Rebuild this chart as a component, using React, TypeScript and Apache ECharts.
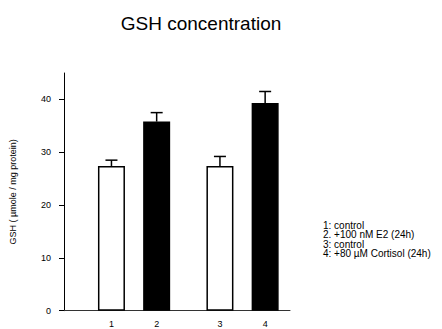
import React, { useEffect, useRef } from "react";
import * as echarts from "echarts";

const categories = ["1", "2", "3", "4"];
const xPositions = [1.05, 2.05, 3.45, 4.45];
const means = [27.4, 35.8, 27.4, 39.3];
const errors = [1.1, 1.7, 1.8, 2.2];
const barColors = ["#ffffff", "#000000", "#ffffff", "#000000"];
const yTicks = [0, 10, 20, 30, 40];
const legendLines = [
  "1: control",
  "2. +100 nM E2 (24h)",
  "3: control",
  "4: +80 \u00b5M Cortisol (24h)",
];

const FONT = "Liberation Sans, Arial, sans-serif";

export default function App() {
  const ref = useRef<HTMLDivElement>(null);
  useEffect(() => {
    if (!ref.current) return;
    const chart = echarts.init(ref.current, null, { renderer: "svg" });
    const barData = xPositions.map((x, i) => ({
      value: [x, means[i]],
      itemStyle: { color: barColors[i], borderColor: "#000", borderWidth: 1.5 },
    }));
    const errData = xPositions.map((x, i) => [x, means[i], means[i] + errors[i]]);
    chart.setOption({
      animation: false,
      backgroundColor: "#fff",
      textStyle: { fontFamily: FONT },
      title: {
        text: "GSH concentration",
        left: 196,
        textAlign: "center",
        top: 9,
        textStyle: { fontSize: 19, fontWeight: "normal", color: "#000", fontFamily: FONT },
      },
      grid: { left: 63, right: 152, top: 73, bottom: 18.3 },
      xAxis: {
        type: "value",
        min: 0,
        max: 5,
        splitLine: { show: false },
        axisLine: { show: true, lineStyle: { color: "#333", width: 1 } },
        axisTick: { show: false },
        axisLabel: {
          customValues: xPositions,
          formatter: (v: number) => {
            const idx = xPositions.findIndex((p) => Math.abs(p - v) < 1e-6);
            return idx >= 0 ? categories[idx] : "";
          },
          color: "#000",
          fontSize: 9,
          margin: 9,
          fontFamily: FONT,
        },
      },
      yAxis: {
        type: "value",
        min: 0,
        max: 45,
        name: "GSH ( \u00b5mole / mg protein)",
        nameLocation: "middle",
        nameRotate: 90,
        nameGap: 47,
        nameTextStyle: { fontSize: 9, color: "#000", fontFamily: FONT },
        splitLine: { show: false },
        axisLine: { show: true, lineStyle: { color: "#000", width: 1 } },
        axisTick: { show: true, customValues: yTicks, length: 5, lineStyle: { color: "#000" } },
        axisLabel: { customValues: yTicks, color: "#000", fontSize: 9, margin: 13, fontFamily: FONT },
      },
      series: [
        {
          type: "bar",
          data: barData,
          barWidth: 27,
        },
        {
          type: "custom",
          data: errData,
          z: 3,
          renderItem: (params: any, api: any) => {
            const x = api.value(0);
            const lo = api.coord([x, api.value(1)]);
            const hi = api.coord([x, api.value(2)]);
            const half = 6;
            return {
              type: "group",
              children: [
                {
                  type: "line",
                  shape: { x1: lo[0], y1: lo[1], x2: hi[0], y2: hi[1] },
                  style: { stroke: "#000", lineWidth: 1.5 },
                },
                {
                  type: "line",
                  shape: { x1: hi[0] - half, y1: hi[1], x2: hi[0] + half, y2: hi[1] },
                  style: { stroke: "#000", lineWidth: 1.5 },
                },
              ],
            };
          },
        },
      ],
      graphic: [
        {
          type: "text",
          left: 323,
          top: 220,
          style: {
            text: legendLines.join("\n"),
            fontSize: 10,
            lineHeight: 9.6,
            fill: "#000",
            fontFamily: FONT,
          },
        },
      ],
    });
    return () => chart.dispose();
  }, []);
  return <div ref={ref} style={{ width: 442, height: 329, position: "absolute", left: 0, top: 0 }} />;
}
